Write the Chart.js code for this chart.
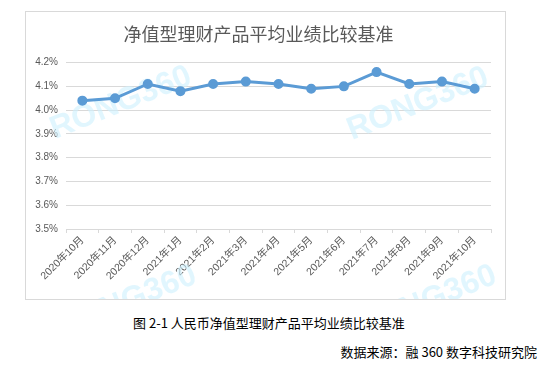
<!DOCTYPE html>
<html><head><meta charset="utf-8">
<script src="https://cdn.jsdelivr.net/npm/chart.js@4"></script>
<style>
html,body{margin:0;padding:0;background:#fff;width:547px;height:365px;overflow:hidden;}
#frame{position:absolute;left:25px;top:11px;width:479px;height:287px;border:1px solid #d9d9d9;box-sizing:content-box;}
#c{position:absolute;left:0;top:0;}
.cap{position:absolute;font-family:"Noto Sans CJK SC","Liberation Sans",sans-serif;font-size:13px;color:#000;white-space:nowrap;line-height:16px;}
#cap1{left:133px;top:315px;}
#cap2{right:10px;top:344px;}
</style></head><body>
<div id="frame"><canvas id="c" width="479" height="287"></canvas></div>
<div class="cap" id="cap1">图 2-1 人民币净值型理财产品平均业绩比较基准</div>
<div class="cap" id="cap2">数据来源：融 360 数字科技研究院</div>
<script>
const title = "净值型理财产品平均业绩比较基准";
const categories = ["2020年10月","2020年11月","2020年12月","2021年1月","2021年2月","2021年3月","2021年4月","2021年5月","2021年6月","2021年7月","2021年8月","2021年9月","2021年10月"];
const values = [4.04,4.05,4.11,4.08,4.11,4.12,4.11,4.09,4.10,4.16,4.11,4.12,4.09];
const yTicks = [3.5,3.6,3.7,3.8,3.9,4.0,4.1,4.2];
const watermark = "RONG360";

const wmPlugin = {
  id:'wm',
  beforeDatasetsDraw(chart){
    const ctx = chart.ctx;
    ctx.save();
    ctx.fillStyle = 'rgba(205,240,253,0.6)';
    ctx.font = 'bold 32px "Liberation Sans", sans-serif';
    ctx.textAlign='center'; ctx.textBaseline='middle';
    // centres relative to the canvas (frame at 25,11)
    const spots = [[95,91],[392,92],[100,290],[400,290]];
    for(const [x,y] of spots){
      ctx.save(); ctx.translate(x,y); ctx.rotate(-0.38); ctx.fillText(watermark,0,0); ctx.restore();
    }
    ctx.restore();
  }
};

new Chart(document.getElementById('c'),{
  type:'line',
  data:{labels:categories,datasets:[{
    data:values,borderColor:'#5b9bd5',backgroundColor:'#5b9bd5',borderWidth:3,
    pointRadius:3.5,pointHoverRadius:3.5,pointBackgroundColor:'#5b9bd5',pointBorderColor:'#5b9bd5',
    tension:0,fill:false
  }]},
  options:{
    responsive:false,animation:false,
    layout:{padding:{left:0,right:14,top:0,bottom:8}},
    plugins:{
      legend:{display:false},tooltip:{enabled:false},
      title:{display:true,text:title,color:'#595959',
        font:{family:'"Noto Sans CJK SC", sans-serif',size:18,weight:'normal'},
        padding:{top:11,bottom:18}}
    },
    scales:{
      x:{
        offset:true,
        grid:{display:true,drawOnChartArea:false,drawTicks:true,tickLength:4,color:'#d9d9d9',offset:true},
        border:{color:'#d9d9d9'},
        ticks:{color:'#595959',font:{family:'"Liberation Sans","Noto Sans CJK SC",sans-serif',size:10.5},
          maxRotation:45,minRotation:45,padding:1,autoSkip:false},
        afterFit(s){s.height=62;}
      },
      y:{
        min:3.5,max:4.2,
        afterBuildTicks(s){s.ticks=yTicks.map(v=>({value:v}));},
        grid:{color:'#d9d9d9',drawTicks:false},
        border:{display:false},
        ticks:{color:'#595959',padding:8,font:{family:'"Liberation Sans",sans-serif',size:10},
          callback:v=>v.toFixed(1)+'%'},
        afterFit(s){s.width=40;}
      }
    }
  },
  plugins:[wmPlugin]
});
</script>
</body></html>
